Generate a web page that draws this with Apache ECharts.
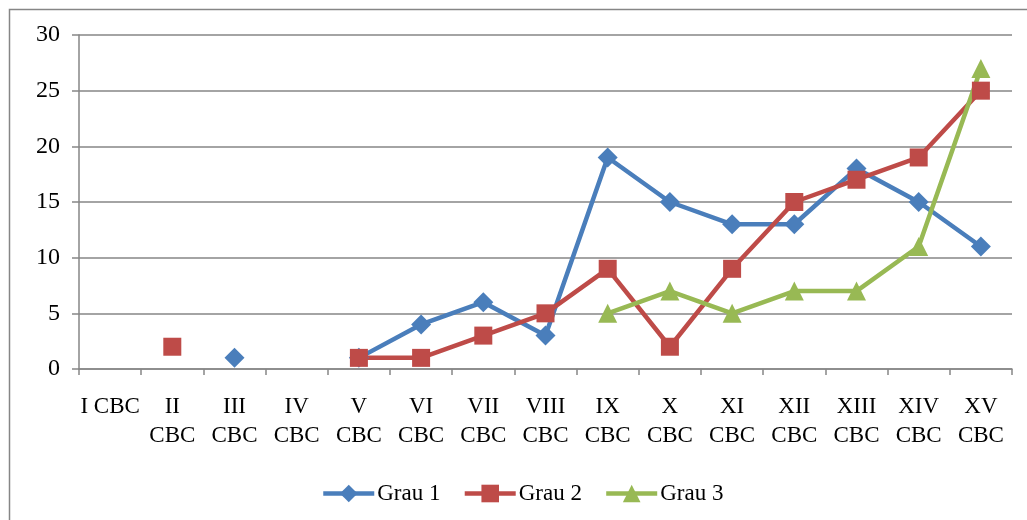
<!DOCTYPE html>
<html><head><meta charset="utf-8">
<script src="https://cdn.jsdelivr.net/npm/echarts@6/dist/echarts.min.js"></script>
<style>html,body{margin:0;padding:0;background:#fff}#c{width:1027px;height:520px}</style>
</head><body><div id="c"></div>
<script>
const categories = ['I CBC','II CBC','III CBC','IV CBC','V CBC','VI CBC','VII CBC','VIII CBC','IX CBC','X CBC','XI CBC','XII CBC','XIII CBC','XIV CBC','XV CBC'];
const grau1 = [null, null, 1, null, 1, 4, 6, 3, 19, 15, 13, 13, 18, 15, 11];
const grau2 = [null, 2, null, null, 1, 1, 3, 5, 9, 2, 9, 15, 17, 19, 25];
const grau3 = [null, null, null, null, null, null, null, null, 5, 7, 5, 7, 7, 11, 27];
const yTicks = [0, 5, 10, 15, 20, 25, 30];

const font = 'Liberation Serif, Times New Roman, serif';
const chart = echarts.init(document.getElementById('c'));
function mk(name, data, color, symbol, size) {
  return {
    name, type: 'line', data, symbol, symbolSize: size, connectNulls: false,
    lineStyle: {color, width: 4.5}, itemStyle: {color}, showAllSymbol: true, animation: false
  };
}
chart.setOption({
  animation: false,
  graphic: [{type: 'rect', shape: {x: 9.5, y: 9.5, width: 1200, height: 700}, style: {fill: 'none', stroke: '#868686', lineWidth: 1.5}, silent: true}],
  grid: {left: 79, right: 15, top: 35, bottom: 151},
  legend: {
    bottom: 10, left: 316, itemWidth: 51, itemHeight: 22, itemGap: 22,
    lineStyle: {width: 4.5},
    textStyle: {fontFamily: font, fontSize: 23, color: '#000', padding: [0, 0, 0, -2]},
    data: ['Grau 1', 'Grau 2', 'Grau 3']
  },
  xAxis: {
    type: 'category', data: categories, boundaryGap: true,
    axisLine: {lineStyle: {color: '#868686', width: 1.5}},
    axisTick: {show: true, length: 6, lineStyle: {color: '#868686', width: 1.5}},
    axisLabel: {
      interval: 0, fontFamily: font, fontSize: 23, color: '#000', lineHeight: 29, margin: 23,
      formatter: v => v === 'I CBC' ? v : v.replace(' ', '\n')
    }
  },
  yAxis: {
    type: 'value', min: yTicks[0], max: yTicks[yTicks.length - 1], interval: 5,
    axisLine: {show: true, lineStyle: {color: '#868686', width: 1.5}},
    axisTick: {show: true, length: 7, lineStyle: {color: '#868686', width: 1.5}},
    splitLine: {lineStyle: {color: '#868686', width: 1.5}},
    axisLabel: {fontFamily: font, fontSize: 24, color: '#000', margin: 19}
  },
  series: [
    mk('Grau 1', grau1, '#4A7EBB', 'diamond', 20),
    mk('Grau 2', grau2, '#BE4B48', 'rect', 18),
    mk('Grau 3', grau3, '#98B954', 'triangle', 19)
  ]
});
</script></body></html>
